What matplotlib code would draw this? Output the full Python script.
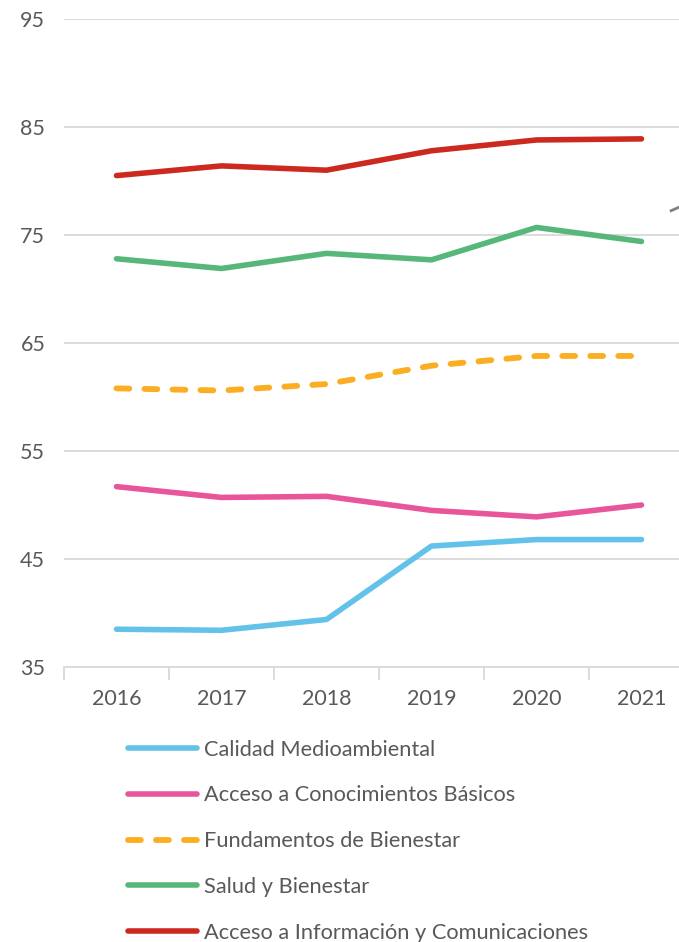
import matplotlib.pyplot as plt

plt.rcParams['font.family'] = ['Lato', 'DejaVu Sans']

years = ['2016', '2017', '2018', '2019', '2020', '2021']
calidad = [38.5, 38.4, 39.4, 46.2, 46.8, 46.8]
conocimientos = [51.7, 50.7, 50.8, 49.5, 48.9, 50.0]
fundamentos = [60.8, 60.6, 61.2, 62.9, 63.8, 63.8]
salud = [72.8, 71.9, 73.3, 72.7, 75.7, 74.4]
informacion = [80.5, 81.4, 81.0, 82.8, 83.8, 83.9]
# piece of a neighbouring series, cut off at the right edge
cut_x = [5.27, 5.6]
cut_y = [77.2, 78.6]

series = [
    ('Calidad Medioambiental', calidad, '#62C2E9', '-'),
    ('Acceso a Conocimientos Básicos', conocimientos, '#E9559B', '-'),
    ('Fundamentos de Bienestar', fundamentos, '#FBAE22', '--'),
    ('Salud y Bienestar', salud, '#57B77B', '-'),
    ('Acceso a Información y Comunicaciones', informacion, '#CC2A1F', '-'),
]
text_color = '#595959'
grid_color = '#D9D9D9'

fig = plt.figure(figsize=(6.79, 9.42), dpi=100)
ax = fig.add_axes([64 / 679, 1 - 667 / 942, 630 / 679, 648 / 942])

x = range(len(years))
handles = []
for label, vals, color, ls in series:
    if ls == '--':
        line, = ax.plot(x, vals, color=color, lw=4.2, solid_capstyle='round',
                        dash_capstyle='round', label=label)
        line.set_dashes((2.2, 2.6))
    else:
        line, = ax.plot(x, vals, color=color, lw=4, solid_capstyle='round', label=label)
    handles.append(line)

ax.plot(cut_x, cut_y, color='#808080', lw=2, ls=(0, (4, 2)))

ax.set_xlim(-0.5, 5.5)
ax.set_ylim(35, 95)
ax.set_yticks(range(35, 96, 10))
ax.set_xticks(list(x))
ax.set_xticklabels(years)
ax.set_xticks([i - 0.5 for i in range(7)], minor=True)
ax.tick_params(axis='x', which='major', length=0, pad=16, labelsize=15.5, labelcolor=text_color)
ax.tick_params(axis='x', which='minor', length=9, color=grid_color, width=1.3)
ax.tick_params(axis='y', length=0, pad=13.5, labelsize=15.5, labelcolor=text_color)
ax.grid(axis='y', color=grid_color, lw=1.3)
ax.set_axisbelow(True)
for s in ['top', 'right', 'left']:
    ax.spines[s].set_visible(False)
ax.spines['bottom'].set_color(grid_color)
ax.spines['bottom'].set_linewidth(1.3)

leg = fig.legend(handles=handles, loc='upper left', bbox_to_anchor=(119 / 679, 1 - 731 / 942),
                 frameon=False, fontsize=15.7, handlelength=3.2, handletextpad=0.28,
                 labelspacing=1.18, borderaxespad=0)
for t in leg.get_texts():
    t.set_color(text_color)

fig.savefig('out.png', dpi=100)
